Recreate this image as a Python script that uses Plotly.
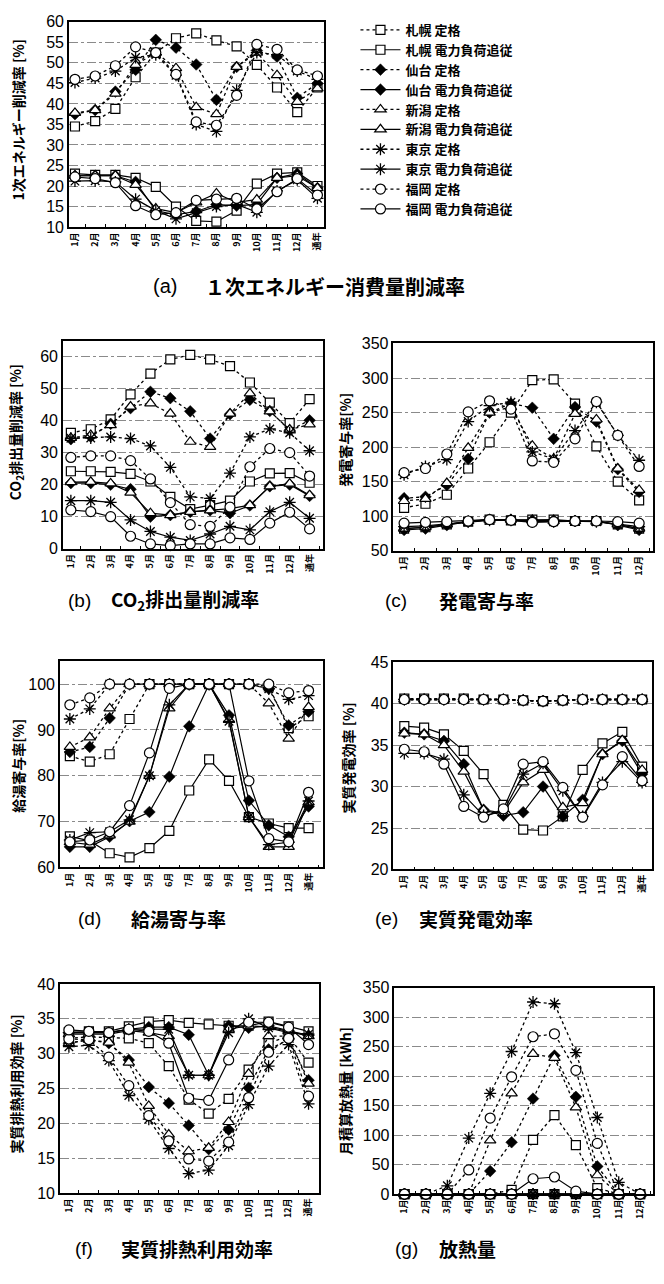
import plotly.graph_objects as go

W, H = 664, 1284

MONTHS13 = ["1月", "2月", "3月", "4月", "5月", "6月", "7月", "8月", "9月", "10月", "11月", "12月", "通年"]
MONTHS12 = ["1月", "2月", "3月", "4月", "5月", "6月", "7月", "8月", "9月", "10月", "11月", "12月"]

CITIES = ["札幌", "仙台", "新潟", "東京", "福岡"]
MODES = ["定格", "電力負荷追従"]

# (a) 1次エネルギー消費量削減率 [%]
A_SAPPORO_RATED = [34.5, 35.8, 38.8, 46.5, 52.5, 56.0, 57.2, 55.5, 54.0, 49.5, 44.0, 38.0, 44.0]
A_SAPPORO_FOLLOW = [23.0, 22.7, 22.7, 22.0, 19.8, 15.0, 11.5, 11.3, 14.0, 20.6, 23.0, 23.3, 20.0]
A_SENDAI_RATED = [37.5, 38.5, 43.0, 48.3, 55.6, 53.7, 49.6, 41.0, 49.0, 53.0, 51.5, 41.5, 45.0]
A_SENDAI_FOLLOW = [22.5, 22.5, 22.5, 21.0, 14.0, 13.0, 13.8, 15.5, 15.2, 15.5, 22.0, 23.0, 19.5]
A_NIIGATA_RATED = [37.8, 38.5, 42.5, 49.5, 52.5, 48.7, 39.2, 37.5, 49.0, 52.5, 47.0, 40.5, 43.8]
A_NIIGATA_FOLLOW = [22.5, 22.5, 22.5, 20.3, 14.5, 13.5, 16.0, 18.2, 16.0, 16.7, 22.0, 22.5, 19.5]
A_TOKYO_RATED = [45.2, 46.3, 48.0, 51.3, 52.0, 47.0, 35.0, 33.3, 43.3, 52.5, 52.0, 48.0, 46.0]
A_TOKYO_FOLLOW = [21.2, 21.3, 21.0, 16.8, 14.0, 12.0, 13.5, 15.0, 15.5, 13.6, 18.8, 21.5, 17.0]
A_FUKUOKA_RATED = [46.0, 46.8, 49.3, 53.9, 52.5, 47.2, 35.6, 34.8, 42.1, 54.5, 53.3, 48.3, 46.8]
A_FUKUOKA_FOLLOW = [22.2, 21.8, 20.8, 15.2, 13.0, 13.5, 16.5, 16.8, 17.0, 14.4, 18.6, 21.8, 17.8]

# (b) CO2排出量削減率 [%]
B_SAPPORO_RATED = [36.2, 37.3, 40.4, 48.2, 54.7, 59.1, 60.5, 59.1, 57.0, 51.9, 45.6, 39.2, 46.7]
B_SAPPORO_FOLLOW = [24.2, 24.2, 24.0, 23.4, 21.0, 16.2, 12.4, 13.6, 15.0, 21.0, 23.5, 23.6, 20.6]
B_SENDAI_RATED = [34.2, 35.0, 39.0, 43.9, 49.0, 47.0, 42.9, 34.4, 42.0, 46.5, 43.0, 37.0, 40.1]
B_SENDAI_FOLLOW = [20.5, 20.5, 20.0, 18.6, 10.0, 10.5, 11.5, 12.0, 11.1, 13.5, 19.5, 20.0, 16.5]
B_NIIGATA_RATED = [34.6, 35.5, 38.6, 44.4, 45.4, 42.2, 33.4, 31.8, 42.2, 48.5, 42.9, 37.2, 38.8]
B_NIIGATA_FOLLOW = [20.8, 20.9, 20.4, 17.5, 11.1, 10.5, 11.5, 12.0, 12.5, 13.6, 19.5, 20.3, 16.7]
B_TOKYO_RATED = [34.5, 34.6, 34.9, 34.4, 32.1, 25.4, 16.2, 15.7, 23.6, 34.9, 37.4, 36.2, 30.6]
B_TOKYO_FOLLOW = [15.0, 15.0, 14.5, 9.0, 5.4, 3.6, 2.6, 4.6, 7.0, 5.9, 11.6, 14.5, 9.5]
B_FUKUOKA_RATED = [28.5, 29.0, 29.0, 27.5, 21.8, 14.4, 7.5, 7.0, 13.0, 25.6, 31.3, 30.0, 22.7]
B_FUKUOKA_FOLLOW = [12.1, 11.6, 10.0, 3.9, 1.5, 1.0, 1.5, 1.5, 3.4, 2.9, 8.0, 11.4, 6.2]

# (c) 発電寄与率 [%]
C_SAPPORO_RATED = [112, 118, 131, 169, 207, 250, 297, 298, 263, 201, 150, 123]
C_SAPPORO_FOLLOW = [82, 84, 88, 92, 95, 94, 95, 95, 93, 93, 88, 82]
C_SENDAI_RATED = [126, 128, 145, 183, 250, 263, 257, 212, 258, 237, 168, 135]
C_SENDAI_FOLLOW = [80, 82, 87, 92, 95, 95, 94, 94, 93, 93, 87, 80]
C_NIIGATA_RATED = [122, 125, 148, 199, 250, 258, 202, 183, 248, 240, 169, 138]
C_NIIGATA_FOLLOW = [82, 84, 88, 93, 95, 95, 94, 93, 93, 92, 88, 82]
C_TOKYO_RATED = [160, 172, 182, 237, 260, 265, 193, 183, 224, 265, 217, 181]
C_TOKYO_FOLLOW = [85, 86, 89, 92, 94, 94, 92, 92, 93, 92, 88, 85]
C_FUKUOKA_RATED = [163, 169, 190, 251, 267, 255, 180, 178, 212, 266, 217, 172]
C_FUKUOKA_FOLLOW = [90, 91, 92, 93, 95, 94, 91, 92, 93, 93, 92, 90]

# (d) 給湯寄与率 [%]
D_SAPPORO_RATED = [84.3, 83.1, 84.7, 92.4, 100, 100, 100, 100, 100, 100, 99.5, 90.4, 93.0]
D_SAPPORO_FOLLOW = [66.8, 65.8, 63.1, 62.2, 64.2, 68.0, 76.8, 83.6, 78.9, 71.0, 69.6, 68.6, 68.6]
D_SENDAI_RATED = [85.2, 86.3, 92.6, 100, 100, 100, 100, 100, 100, 100, 99.0, 91.0, 94.0]
D_SENDAI_FOLLOW = [64.5, 64.5, 66.7, 70.1, 72.1, 79.8, 90.8, 100, 93.2, 74.6, 69.2, 66.7, 73.3]
D_NIIGATA_RATED = [86.3, 88.4, 94.7, 100, 100, 100, 100, 100, 100, 100, 95.8, 88.1, 95.0]
D_NIIGATA_FOLLOW = [65.5, 65.0, 67.0, 70.0, 80.0, 94.7, 100, 100, 92.2, 71.0, 64.5, 64.5, 74.2]
D_TOKYO_RATED = [92.4, 94.6, 100, 100, 100, 100, 100, 100, 100, 100, 99.0, 96.7, 97.5]
D_TOKYO_FOLLOW = [66.0, 67.6, 67.8, 70.4, 80.0, 95.5, 100, 100, 91.9, 71.0, 65.0, 65.5, 74.5]
D_FUKUOKA_RATED = [95.5, 97.0, 100, 100, 100, 100, 100, 100, 100, 100, 100, 98.1, 98.6]
D_FUKUOKA_FOLLOW = [65.6, 66.0, 67.8, 73.5, 85.0, 99.1, 100, 100, 100, 78.9, 66.3, 65.6, 76.4]

# (e) 実質発電効率 [%]
E_SAPPORO_RATED = [40.6, 40.6, 40.6, 40.6, 40.5, 40.5, 40.4, 40.3, 40.4, 40.5, 40.5, 40.5, 40.5]
E_SAPPORO_FOLLOW = [37.3, 37.1, 36.3, 34.3, 31.5, 27.8, 24.8, 24.7, 26.4, 32.0, 35.2, 36.6, 32.4]
E_SENDAI_RATED = [40.5, 40.5, 40.5, 40.5, 40.5, 40.5, 40.4, 40.3, 40.4, 40.5, 40.5, 40.5, 40.5]
E_SENDAI_FOLLOW = [36.5, 36.3, 35.5, 32.7, 27.2, 26.5, 26.9, 30.0, 26.4, 28.4, 33.9, 35.5, 31.5]
E_NIIGATA_RATED = [40.5, 40.5, 40.5, 40.5, 40.5, 40.5, 40.4, 40.3, 40.4, 40.5, 40.5, 40.5, 40.5]
E_NIIGATA_FOLLOW = [36.4, 36.3, 35.0, 31.8, 27.2, 26.8, 30.5, 32.0, 27.5, 28.0, 33.9, 35.6, 32.0]
E_TOKYO_RATED = [40.5, 40.5, 40.5, 40.5, 40.5, 40.5, 40.4, 40.3, 40.4, 40.5, 40.5, 40.5, 40.5]
E_TOKYO_FOLLOW = [34.0, 34.0, 33.3, 29.0, 26.5, 27.0, 31.5, 32.8, 29.5, 26.4, 30.5, 33.0, 30.5]
E_FUKUOKA_RATED = [40.5, 40.5, 40.5, 40.5, 40.5, 40.5, 40.4, 40.3, 40.4, 40.5, 40.5, 40.5, 40.5]
E_FUKUOKA_FOLLOW = [34.5, 34.2, 32.7, 27.6, 26.3, 27.3, 32.7, 33.0, 29.9, 26.3, 30.2, 33.6, 30.7]

# (f) 実質排熱利用効率 [%]
F_SAPPORO_RATED = [32.2, 32.4, 32.3, 32.2, 31.5, 28.2, 23.4, 21.4, 23.5, 27.7, 31.5, 32.5, 28.7]
F_SAPPORO_FOLLOW = [33.1, 33.2, 33.2, 33.9, 34.6, 34.8, 34.4, 34.2, 34.0, 34.0, 34.6, 33.9, 33.2]
F_SENDAI_RATED = [31.5, 32.0, 31.5, 29.1, 25.2, 22.9, 19.7, 16.3, 19.1, 25.1, 30.6, 32.0, 26.2]
F_SENDAI_FOLLOW = [33.0, 33.0, 33.0, 33.5, 33.8, 33.8, 32.7, 26.9, 34.0, 33.7, 34.0, 33.3, 32.6]
F_NIIGATA_RATED = [31.5, 32.0, 31.6, 28.7, 22.5, 18.4, 16.0, 16.5, 20.2, 27.1, 32.5, 32.5, 25.7]
F_NIIGATA_FOLLOW = [32.8, 32.8, 32.8, 33.3, 33.0, 32.5, 26.9, 26.9, 33.5, 34.0, 33.8, 33.2, 32.5]
F_TOKYO_RATED = [31.0, 31.2, 29.0, 24.0, 20.6, 16.4, 12.8, 13.3, 16.8, 22.7, 28.2, 31.3, 22.8]
F_TOKYO_FOLLOW = [33.0, 33.0, 33.0, 33.5, 33.5, 33.5, 26.9, 26.9, 33.0, 35.0, 33.7, 33.0, 32.8]
F_FUKUOKA_RATED = [32.1, 32.0, 29.5, 25.4, 21.1, 17.5, 14.9, 14.6, 17.3, 23.7, 30.2, 32.2, 23.9]
F_FUKUOKA_FOLLOW = [33.4, 33.2, 33.0, 33.5, 33.2, 31.5, 23.6, 23.3, 29.1, 34.5, 34.5, 33.8, 31.3]

# (g) 月積算放熱量 [kWh]
G_SAPPORO_RATED = [0, 0, 0, 0, 0, 7, 92, 134, 83, 10, 0, 0]
G_SAPPORO_FOLLOW = [0, 0, 0, 0, 0, 0, 0, 0, 0, 0, 0, 0]
G_SENDAI_RATED = [0, 0, 0, 0, 39, 88, 162, 235, 165, 47, 0, 0]
G_SENDAI_FOLLOW = [0, 0, 0, 0, 0, 0, 0, 0, 0, 0, 0, 0]
G_NIIGATA_RATED = [0, 0, 0, 0, 91, 171, 238, 231, 147, 32, 0, 0]
G_NIIGATA_FOLLOW = [0, 0, 0, 0, 0, 0, 0, 0, 0, 0, 0, 0]
G_TOKYO_RATED = [0, 0, 14, 95, 171, 242, 326, 323, 240, 130, 20, 0]
G_TOKYO_FOLLOW = [0, 0, 0, 0, 0, 0, 0, 0, 0, 0, 0, 0]
G_FUKUOKA_RATED = [0, 0, 0, 41, 129, 199, 267, 272, 210, 86, 0, 0]
G_FUKUOKA_FOLLOW = [0, 0, 0, 0, 0, 0, 26, 29, 5, 0, 0, 0]

PANEL_DATA = {
    "a": (MONTHS13, [A_SAPPORO_RATED, A_SAPPORO_FOLLOW, A_SENDAI_RATED, A_SENDAI_FOLLOW, A_NIIGATA_RATED,
                     A_NIIGATA_FOLLOW, A_TOKYO_RATED, A_TOKYO_FOLLOW, A_FUKUOKA_RATED, A_FUKUOKA_FOLLOW]),
    "b": (MONTHS13, [B_SAPPORO_RATED, B_SAPPORO_FOLLOW, B_SENDAI_RATED, B_SENDAI_FOLLOW, B_NIIGATA_RATED,
                     B_NIIGATA_FOLLOW, B_TOKYO_RATED, B_TOKYO_FOLLOW, B_FUKUOKA_RATED, B_FUKUOKA_FOLLOW]),
    "c": (MONTHS12, [C_SAPPORO_RATED, C_SAPPORO_FOLLOW, C_SENDAI_RATED, C_SENDAI_FOLLOW, C_NIIGATA_RATED,
                     C_NIIGATA_FOLLOW, C_TOKYO_RATED, C_TOKYO_FOLLOW, C_FUKUOKA_RATED, C_FUKUOKA_FOLLOW]),
    "d": (MONTHS13, [D_SAPPORO_RATED, D_SAPPORO_FOLLOW, D_SENDAI_RATED, D_SENDAI_FOLLOW, D_NIIGATA_RATED,
                     D_NIIGATA_FOLLOW, D_TOKYO_RATED, D_TOKYO_FOLLOW, D_FUKUOKA_RATED, D_FUKUOKA_FOLLOW]),
    "e": (MONTHS13, [E_SAPPORO_RATED, E_SAPPORO_FOLLOW, E_SENDAI_RATED, E_SENDAI_FOLLOW, E_NIIGATA_RATED,
                     E_NIIGATA_FOLLOW, E_TOKYO_RATED, E_TOKYO_FOLLOW, E_FUKUOKA_RATED, E_FUKUOKA_FOLLOW]),
    "f": (MONTHS13, [F_SAPPORO_RATED, F_SAPPORO_FOLLOW, F_SENDAI_RATED, F_SENDAI_FOLLOW, F_NIIGATA_RATED,
                     F_NIIGATA_FOLLOW, F_TOKYO_RATED, F_TOKYO_FOLLOW, F_FUKUOKA_RATED, F_FUKUOKA_FOLLOW]),
    "g": (MONTHS12, [G_SAPPORO_RATED, G_SAPPORO_FOLLOW, G_SENDAI_RATED, G_SENDAI_FOLLOW, G_NIIGATA_RATED,
                     G_NIIGATA_FOLLOW, G_TOKYO_RATED, G_TOKYO_FOLLOW, G_FUKUOKA_RATED, G_FUKUOKA_FOLLOW]),
}

# ---- styling / layout (pixels) ----
CJK = "Noto Sans CJK JP"
NUM = "Liberation Sans"

SYMBOLS = {
    "札幌": dict(symbol="square", size=9, color="white", line=dict(color="black", width=1.2)),
    "仙台": dict(symbol="diamond", size=9, color="black", line=dict(color="black", width=0.5)),
    "新潟": dict(symbol="triangle-up", size=10, color="white", line=dict(color="black", width=1.2)),
    "東京": dict(symbol="asterisk-open", size=10, color="black", line=dict(color="black", width=1.3)),
    "福岡": dict(symbol="circle", size=10, color="white", line=dict(color="black", width=1.2)),
}

# plot boxes: left, right, top, bottom in px; yrange, dtick, xrange pad
PANELS = {
    "a": dict(box=(68, 323, 14, 222), yr=(10, 60), dt=5, pad=(0.3, 0.3)),
    "b": dict(box=(62, 322, 337, 548), yr=(0, 65), dt=10, pad=(0.4, 0.65)),
    "c": dict(box=(393, 653, 340, 550), yr=(50, 350), dt=50, pad=(0.5, 0.65)),
    "d": dict(box=(59, 322, 662, 871), yr=(60, 105), dt=10, pad=(0.5, 0.7)),
    "e": dict(box=(393, 652, 663, 873), yr=(20, 45), dt=5, pad=(0.55, 0.5)),
    "f": dict(box=(59, 318, 989, 1201), yr=(10, 40), dt=5, pad=(0.45, 0.5)),
    "g": dict(box=(394, 653, 993, 1202), yr=(0, 350), dt=50, pad=(0.47, 0.6)),
}

YTITLES = {
    "a": ("1次エネルギー削減率 [%]", 17, 113),
    "b": ("CO<sub>2</sub>排出量削減率 [%]", 15, 430),
    "c": ("発電寄与率[%]", 345, 437),
    "d": ("給湯寄与率[%]", 17, 768),
    "e": ("実質発電効率 [%]", 347, 760),
    "f": ("実質排熱利用効率 [%]", 15, 1090),
    "g": ("月積算放熱量 [kWh]", 345, 1097),
}

CAPTIONS = {
    "a": ("(a)", 150, "１次エネルギー消費量削減率", 202, 282, 20),
    "b": ("(b)", 65, "CO<sub>2</sub>排出量削減率", 108, 600, 19),
    "c": ("(c)", 383, "発電寄与率", 437, 600, 19),
    "d": ("(d)", 75, "給湯寄与率", 128, 923, 19),
    "e": ("(e)", 373, "実質発電効率", 417, 923, 19),
    "f": ("(f)", 72, "実質排熱利用効率", 118, 1257, 19),
    "g": ("(g)", 393, "放熱量", 437, 1257, 19),
}


def px_x(x):
    return x / W


def px_y(y):
    return 1 - y / H


fig = go.Figure()
layout_axes = {}
annotations = []

for i, (key, cfg) in enumerate(PANELS.items()):
    n = i + 1
    xa = "x" if n == 1 else f"x{n}"
    ya = "y" if n == 1 else f"y{n}"
    cats, series = PANEL_DATA[key]
    k = 0
    for city in CITIES:
        for mode in MODES:
            vals = series[k]
            k += 1
            fig.add_trace(go.Scatter(
                x=cats, y=vals, xaxis=xa, yaxis=ya,
                mode="lines+markers",
                name=f"{city} {mode}",
                showlegend=(key == "a"),
                line=dict(color="black", width=1.3 if mode == "定格" else 1.2,
                          dash="dot" if mode == "定格" else "solid"),
                marker=SYMBOLS[city],
                cliponaxis=False,
            ))
    l, r, t, b = cfg["box"]
    ncat = len(cats)
    xkey = "xaxis" if n == 1 else f"xaxis{n}"
    ykey = "yaxis" if n == 1 else f"yaxis{n}"
    layout_axes[xkey] = dict(
        domain=[px_x(l), px_x(r)], anchor=ya, type="category",
        categoryorder="array", categoryarray=cats,
        range=[-cfg["pad"][0], ncat - 1 + cfg["pad"][1]],
        tickangle=-90, tickfont=dict(family=CJK, size=9, color="black", weight="bold"),
        showline=True, mirror=True, linecolor="black", linewidth=1.5,
        ticks="inside", ticklen=3, tickcolor="black", tickson="boundaries",
        showgrid=False, zeroline=False, fixedrange=True,
    )
    layout_axes[ykey] = dict(
        domain=[px_y(b), px_y(t)], anchor=xa,
        range=list(cfg["yr"]), dtick=cfg["dt"], tick0=0,
        tickfont=dict(family=NUM, size=16, color="black"),
        showline=True, mirror=True, linecolor="black", linewidth=1.5,
        showgrid=True, gridcolor="#8a8a8a", gridwidth=1, griddash="dashdot",
        ticks="", zeroline=False, fixedrange=True,
    )
    ttl, tx, ty = YTITLES[key]
    annotations.append(dict(
        text=ttl, x=px_x(tx), y=px_y(ty), xref="paper", yref="paper",
        textangle=-90, showarrow=False, xanchor="center", yanchor="middle",
        font=dict(family=CJK, size=14, color="black", weight="bold"),
    ))
    lab, lx, cap, cx, cy, fs = CAPTIONS[key]
    annotations.append(dict(
        text=lab, x=px_x(lx), y=px_y(cy), xref="paper", yref="paper",
        showarrow=False, xanchor="left", yanchor="middle",
        font=dict(family=NUM, size=fs, color="black"),
    ))
    annotations.append(dict(
        text=cap, x=px_x(cx), y=px_y(cy), xref="paper", yref="paper",
        showarrow=False, xanchor="left", yanchor="middle",
        font=dict(family=CJK, size=fs, color="black", weight="bold"),
    ))

fig.update_layout(
    width=W, height=H,
    margin=dict(l=0, r=0, t=0, b=0),
    paper_bgcolor="white", plot_bgcolor="white",
    showlegend=True,
    legend=dict(
        x=px_x(355), y=px_y(7), xanchor="left", yanchor="top",
        font=dict(family=CJK, size=13, color="black", weight="bold"),
        bgcolor="rgba(0,0,0,0)", tracegroupgap=0, itemwidth=40,
    ),
    annotations=annotations,
    **layout_axes,
)

fig.write_html("out.html")
